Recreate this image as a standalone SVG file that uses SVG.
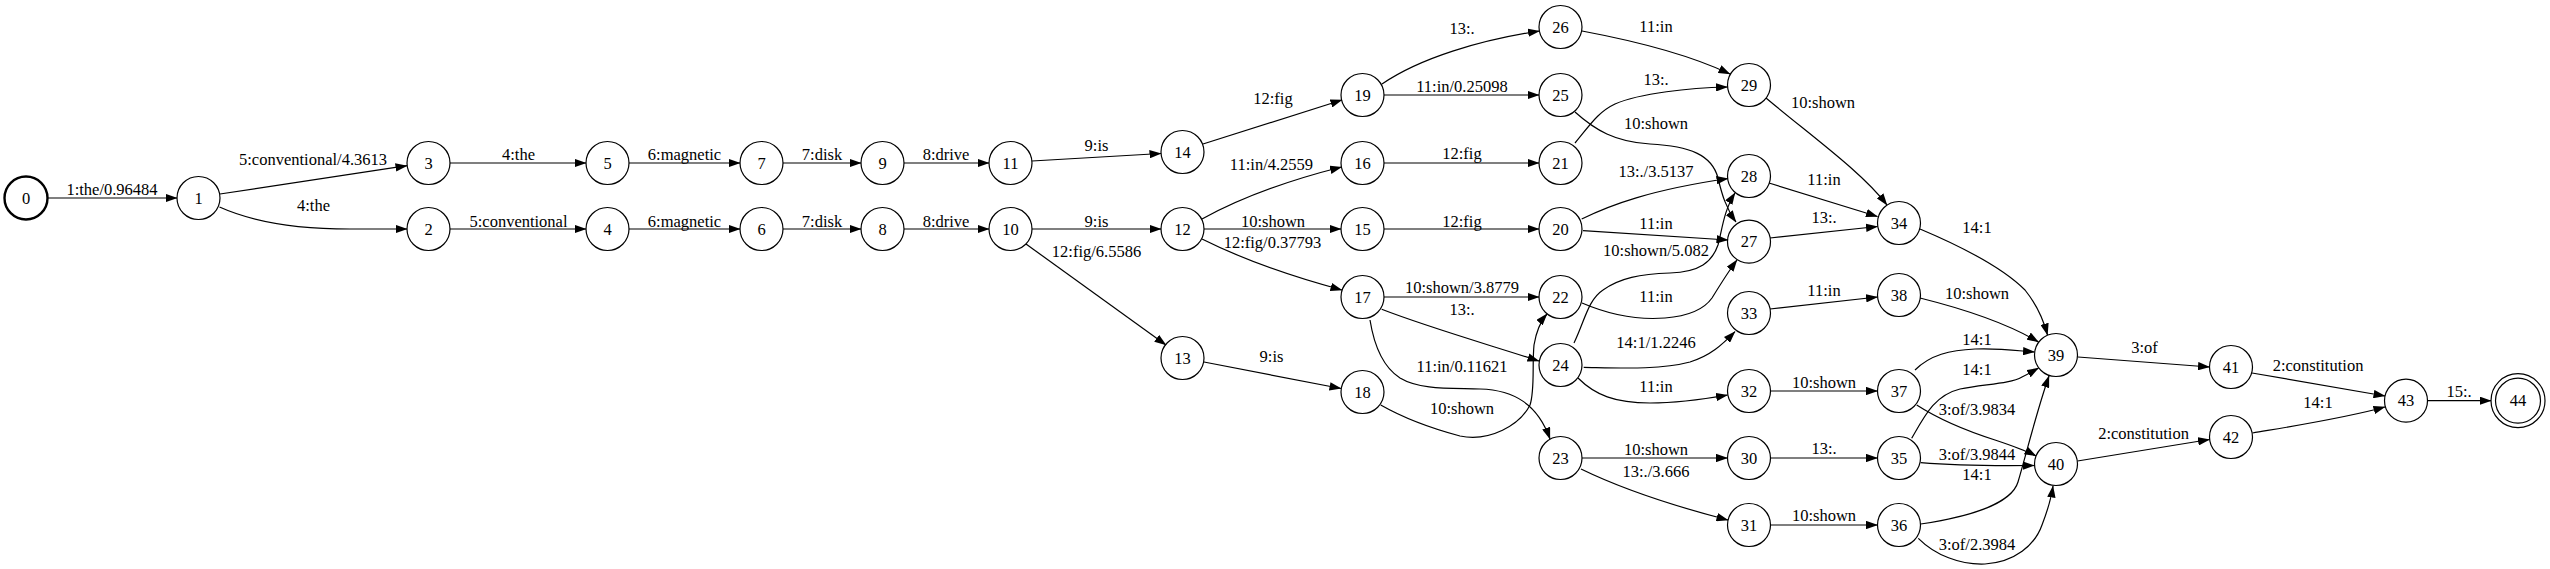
<svg xmlns="http://www.w3.org/2000/svg" width="2550" height="569" viewBox="0 0 2550 569">
<defs>
<marker id="ah" viewBox="0 0 12 8.4" refX="11.5" refY="4.2" markerWidth="12" markerHeight="8.4" markerUnits="userSpaceOnUse" orient="auto">
<path d="M0,0 L12,4.2 L0,8.4 z" fill="#000"/>
</marker>
</defs>
<style>
.node circle{fill:none;stroke:#000;stroke-width:1.2}
#connectors path{fill:none;stroke:#000;stroke-width:1.2;marker-end:url(#ah)}
text{font-family:"Liberation Serif","Times New Roman",serif;font-size:16.5px;text-anchor:middle;fill:#000}
</style>
<rect width="2550" height="569" fill="#fff"/>
<g id="connectors">
<path d="M47.5,198 L177,198"/>
<path d="M220,194 L407,165.7"/>
<path d="M219.5,207 C255,223 300,229 350,229 L407,229"/>
<path d="M450,163 L586,163"/>
<path d="M450,229 L586,229"/>
<path d="M629,163 L740,163"/>
<path d="M629,229 L740,229"/>
<path d="M783,163 L861,163"/>
<path d="M783,229 L861,229"/>
<path d="M904,163 L989,163"/>
<path d="M904,229 L989,229"/>
<path d="M1032,161 L1161,153.5"/>
<path d="M1032,229 L1161,229"/>
<path d="M1026,244 L1166,345"/>
<path d="M1203,144 L1342,100"/>
<path d="M1202,219 C1240,198 1290,180 1341.5,167"/>
<path d="M1204,229 L1341,229"/>
<path d="M1202,239 C1240,258 1290,276 1342,290"/>
<path d="M1204,362 L1341,388.5"/>
<path d="M1382,84 C1420,58 1480,40 1539.5,31"/>
<path d="M1384,95 L1539,95"/>
<path d="M1384,163 L1539,163"/>
<path d="M1384,229 L1539,229"/>
<path d="M1384,297 L1539,297"/>
<path d="M1381.7,309.3 C1430,328 1490,345 1539,361"/>
<path d="M1370,320 C1374,345 1383,367 1400,378 C1420,390 1450,388 1480,389 C1515,390 1538,405 1550,439"/>
<path d="M1380.7,405 C1400,416 1430,428 1460,436 C1490,442 1520,425 1530,405 C1535,390 1532,365 1534,345 C1536,333 1540,322 1547,314"/>
<path d="M1582,31 C1630,40 1690,55 1730,74"/>
<path d="M1575,143 C1590,125 1598,112 1615,104 C1640,93 1690,88 1727.5,87"/>
<path d="M1575,112 C1595,130 1615,142 1650,144 C1690,146 1712,155 1718,178 C1722,195 1726,208 1736,222"/>
<path d="M1581.7,219 C1610,205 1650,190 1728,178.5"/>
<path d="M1583,230.7 L1728,240"/>
<path d="M1574,343 C1585,320 1588,300 1603,290 C1620,278 1640,274 1670,273 C1700,272 1712,262 1718,245 C1722,230 1724,210 1735,193"/>
<path d="M1582,303 C1610,315 1640,320 1665,318 C1690,316 1705,308 1712,298 C1720,285 1728,272 1737,260"/>
<path d="M1583.7,367.3 C1620,368 1660,370 1690,362 C1710,356 1722,345 1735,331.7"/>
<path d="M1578,378 C1595,395 1615,403 1650,403 C1680,403 1705,399 1727.5,395"/>
<path d="M1582,458 L1727.5,458"/>
<path d="M1581,469 C1620,488 1670,505 1728,520"/>
<path d="M1766,98 C1810,135 1862,172 1887,205"/>
<path d="M1769,183 L1877.5,216.5"/>
<path d="M1770,238 L1877.5,226.5"/>
<path d="M1770,309 L1877.5,297"/>
<path d="M1770.5,391 L1877.5,391"/>
<path d="M1770.5,458 L1877.5,458"/>
<path d="M1770.5,525 L1877.5,525"/>
<path d="M1920,229 C1965,248 2005,270 2025,290 C2037,305 2043,318 2047.5,335"/>
<path d="M1920,298 C1960,308 2005,322 2038.5,342"/>
<path d="M1915,370 C1930,355 1950,350 1975,349 C2000,348 2020,351 2034.5,352"/>
<path d="M1911.7,438.3 C1925,415 1935,395 1960,389 C1985,384 2010,384 2022,377 C2030,373 2035,370 2038.5,368"/>
<path d="M1916.7,405 C1940,420 1970,432 1995,440 C2010,445 2025,450 2036,456"/>
<path d="M1920.7,462.7 C1960,466 1995,466 2034.5,465.5"/>
<path d="M1920.7,524 C1975,516 2012,502 2018,482 C2026,455 2037,410 2049,376"/>
<path d="M1918.3,538.3 C1935,555 1960,565 1985,564 C2015,562 2035,545 2042,525 C2047,512 2051,500 2053,486"/>
<path d="M2078,357 L2209.5,367"/>
<path d="M2077.5,461 L2209.5,439.5"/>
<path d="M2252,373 L2385,396"/>
<path d="M2252.5,433 C2300,425 2345,418 2385,407"/>
<path d="M2427.5,400.7 L2491,400.7"/>
</g>
<g id="edge-labels">
<text x="112" y="195">1:the/0.96484</text>
<text x="313" y="165">5:conventional/4.3613</text>
<text x="313.5" y="210.5">4:the</text>
<text x="518.5" y="160">4:the</text>
<text x="518.5" y="226.5">5:conventional</text>
<text x="684.5" y="160">6:magnetic</text>
<text x="684.5" y="226.5">6:magnetic</text>
<text x="822" y="160">7:disk</text>
<text x="822" y="226.5">7:disk</text>
<text x="946" y="160">8:drive</text>
<text x="946" y="226.5">8:drive</text>
<text x="1096.5" y="150.5">9:is</text>
<text x="1096.5" y="226.5">9:is</text>
<text x="1096.5" y="257">12:fig/6.5586</text>
<text x="1273" y="104">12:fig</text>
<text x="1271.5" y="170">11:in/4.2559</text>
<text x="1273" y="226.5">10:shown</text>
<text x="1272.5" y="248">12:fig/0.37793</text>
<text x="1271.5" y="361.5">9:is</text>
<text x="1462" y="33.5">13:.</text>
<text x="1462" y="91.5">11:in/0.25098</text>
<text x="1462" y="159">12:fig</text>
<text x="1462" y="226.5">12:fig</text>
<text x="1462" y="293">10:shown/3.8779</text>
<text x="1462" y="314.5">13:.</text>
<text x="1462" y="372">11:in/0.11621</text>
<text x="1462" y="413.5">10:shown</text>
<text x="1656" y="31.5">11:in</text>
<text x="1656" y="85">13:.</text>
<text x="1656" y="129">10:shown</text>
<text x="1656" y="177">13:./3.5137</text>
<text x="1656" y="228.5">11:in</text>
<text x="1656" y="256">10:shown/5.082</text>
<text x="1656" y="301.5">11:in</text>
<text x="1656" y="347.5">14:1/1.2246</text>
<text x="1656" y="391.5">11:in</text>
<text x="1656" y="455">10:shown</text>
<text x="1656" y="476.5">13:./3.666</text>
<text x="1823" y="108">10:shown</text>
<text x="1824" y="185">11:in</text>
<text x="1824" y="223">13:.</text>
<text x="1824" y="296">11:in</text>
<text x="1824" y="387.5">10:shown</text>
<text x="1824" y="454">13:.</text>
<text x="1824" y="520.5">10:shown</text>
<text x="1977" y="232.5">14:1</text>
<text x="1977" y="298.5">10:shown</text>
<text x="1977" y="345">14:1</text>
<text x="1977" y="375">14:1</text>
<text x="1977" y="415">3:of/3.9834</text>
<text x="1977" y="459.5">3:of/3.9844</text>
<text x="1977" y="480">14:1</text>
<text x="1977" y="550">3:of/2.3984</text>
<text x="2144.5" y="353">3:of</text>
<text x="2143.5" y="439">2:constitution</text>
<text x="2318" y="370.5">2:constitution</text>
<text x="2318" y="408">14:1</text>
<text x="2459" y="396.5">15:.</text>
</g>
<g id="node0" class="node"><circle cx="26" cy="198" r="21.5" style="stroke-width:2.4"/><text x="26" y="203.7">0</text></g>
<g id="node1" class="node"><circle cx="198.5" cy="198" r="21.5"/><text x="198.5" y="203.7">1</text></g>
<g id="node2" class="node"><circle cx="428.5" cy="229" r="21.5"/><text x="428.5" y="234.7">2</text></g>
<g id="node3" class="node"><circle cx="428.5" cy="163" r="21.5"/><text x="428.5" y="168.7">3</text></g>
<g id="node4" class="node"><circle cx="607.5" cy="229" r="21.5"/><text x="607.5" y="234.7">4</text></g>
<g id="node5" class="node"><circle cx="607.5" cy="163" r="21.5"/><text x="607.5" y="168.7">5</text></g>
<g id="node6" class="node"><circle cx="761.5" cy="229" r="21.5"/><text x="761.5" y="234.7">6</text></g>
<g id="node7" class="node"><circle cx="761.5" cy="163" r="21.5"/><text x="761.5" y="168.7">7</text></g>
<g id="node8" class="node"><circle cx="882.5" cy="229" r="21.5"/><text x="882.5" y="234.7">8</text></g>
<g id="node9" class="node"><circle cx="882.5" cy="163" r="21.5"/><text x="882.5" y="168.7">9</text></g>
<g id="node10" class="node"><circle cx="1010.5" cy="229" r="21.5"/><text x="1010.5" y="234.7">10</text></g>
<g id="node11" class="node"><circle cx="1010.5" cy="163" r="21.5"/><text x="1010.5" y="168.7">11</text></g>
<g id="node12" class="node"><circle cx="1182.5" cy="229" r="21.5"/><text x="1182.5" y="234.7">12</text></g>
<g id="node13" class="node"><circle cx="1182.5" cy="358" r="21.5"/><text x="1182.5" y="363.7">13</text></g>
<g id="node14" class="node"><circle cx="1182.5" cy="152" r="21.5"/><text x="1182.5" y="157.7">14</text></g>
<g id="node15" class="node"><circle cx="1362.5" cy="229" r="21.5"/><text x="1362.5" y="234.7">15</text></g>
<g id="node16" class="node"><circle cx="1362.5" cy="163" r="21.5"/><text x="1362.5" y="168.7">16</text></g>
<g id="node17" class="node"><circle cx="1362.5" cy="297" r="21.5"/><text x="1362.5" y="302.7">17</text></g>
<g id="node18" class="node"><circle cx="1362.5" cy="392" r="21.5"/><text x="1362.5" y="397.7">18</text></g>
<g id="node19" class="node"><circle cx="1362.5" cy="95" r="21.5"/><text x="1362.5" y="100.7">19</text></g>
<g id="node20" class="node"><circle cx="1560.5" cy="229" r="21.5"/><text x="1560.5" y="234.7">20</text></g>
<g id="node21" class="node"><circle cx="1560.5" cy="163" r="21.5"/><text x="1560.5" y="168.7">21</text></g>
<g id="node22" class="node"><circle cx="1560.5" cy="297" r="21.5"/><text x="1560.5" y="302.7">22</text></g>
<g id="node23" class="node"><circle cx="1560.5" cy="458" r="21.5"/><text x="1560.5" y="463.7">23</text></g>
<g id="node24" class="node"><circle cx="1560.5" cy="365" r="21.5"/><text x="1560.5" y="370.7">24</text></g>
<g id="node25" class="node"><circle cx="1560.5" cy="95" r="21.5"/><text x="1560.5" y="100.7">25</text></g>
<g id="node26" class="node"><circle cx="1560.5" cy="27" r="21.5"/><text x="1560.5" y="32.7">26</text></g>
<g id="node27" class="node"><circle cx="1749" cy="241.7" r="21.5"/><text x="1749" y="247.4">27</text></g>
<g id="node28" class="node"><circle cx="1749" cy="176" r="21.5"/><text x="1749" y="181.7">28</text></g>
<g id="node29" class="node"><circle cx="1749" cy="85" r="21.5"/><text x="1749" y="90.7">29</text></g>
<g id="node30" class="node"><circle cx="1749" cy="458" r="21.5"/><text x="1749" y="463.7">30</text></g>
<g id="node31" class="node"><circle cx="1749" cy="525" r="21.5"/><text x="1749" y="530.7">31</text></g>
<g id="node32" class="node"><circle cx="1749" cy="391" r="21.5"/><text x="1749" y="396.7">32</text></g>
<g id="node33" class="node"><circle cx="1749" cy="313" r="21.5"/><text x="1749" y="318.7">33</text></g>
<g id="node34" class="node"><circle cx="1899" cy="223" r="21.5"/><text x="1899" y="228.7">34</text></g>
<g id="node35" class="node"><circle cx="1899" cy="458" r="21.5"/><text x="1899" y="463.7">35</text></g>
<g id="node36" class="node"><circle cx="1899" cy="525" r="21.5"/><text x="1899" y="530.7">36</text></g>
<g id="node37" class="node"><circle cx="1899" cy="391" r="21.5"/><text x="1899" y="396.7">37</text></g>
<g id="node38" class="node"><circle cx="1899" cy="295" r="21.5"/><text x="1899" y="300.7">38</text></g>
<g id="node39" class="node"><circle cx="2056" cy="355" r="21.5"/><text x="2056" y="360.7">39</text></g>
<g id="node40" class="node"><circle cx="2056" cy="464" r="21.5"/><text x="2056" y="469.7">40</text></g>
<g id="node41" class="node"><circle cx="2231" cy="367" r="21.5"/><text x="2231" y="372.7">41</text></g>
<g id="node42" class="node"><circle cx="2231" cy="437" r="21.5"/><text x="2231" y="442.7">42</text></g>
<g id="node43" class="node"><circle cx="2406" cy="400.7" r="21.5"/><text x="2406" y="406.4">43</text></g>
<g id="node44" class="node"><circle cx="2518" cy="400.7" r="22.5"/><circle cx="2518" cy="400.7" r="27"/><text x="2518" y="406.4">44</text></g>
</svg>
